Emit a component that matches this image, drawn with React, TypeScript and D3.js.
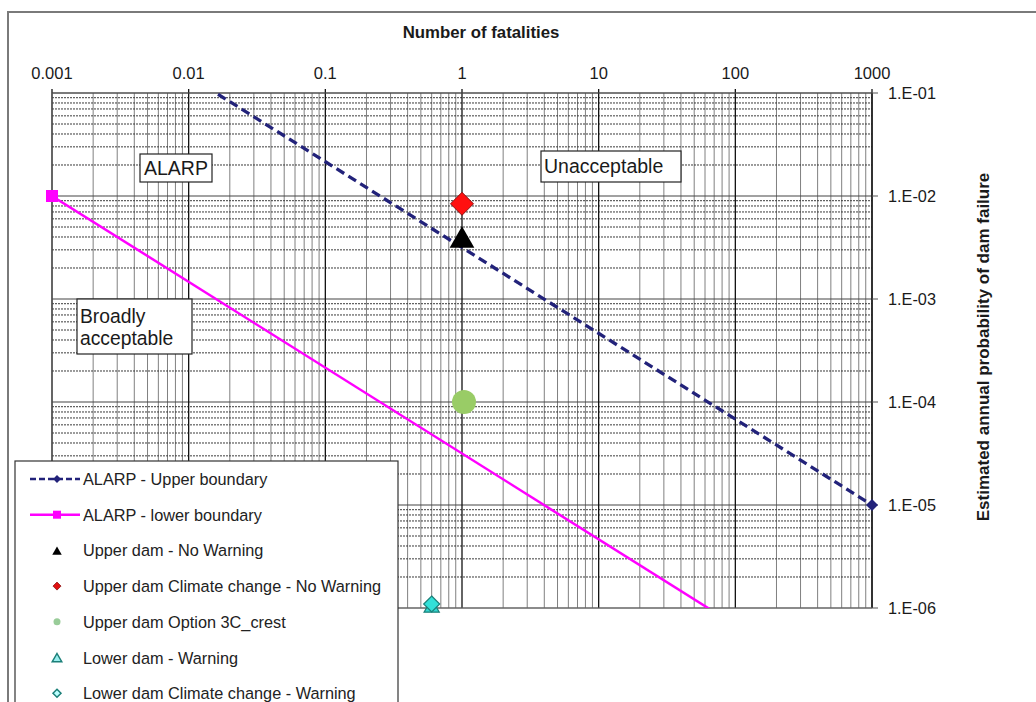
import React from "react";
import * as d3 from "d3";

const xTicks = [0.001, 0.01, 0.1, 1, 10, 100, 1000];
const xTickLabels = ["0.001", "0.01", "0.1", "1", "10", "100", "1000"];
const yTicks = [1e-1, 1e-2, 1e-3, 1e-4, 1e-5, 1e-6];
const yTickLabels = ["1.E-01", "1.E-02", "1.E-03", "1.E-04", "1.E-05", "1.E-06"];

const upperBoundaryX = [0.001, 1000];
const upperBoundaryY = [1, 1e-5];
const lowerBoundaryX = [0.001, 1000];
const lowerBoundaryY = [1e-2, 1e-7];

const upperNoWarning = { x: 1, y: 3.8e-3 };
const upperClimateNoWarning = { x: 1, y: 8.4e-3 };
const upperOption3C = { x: 1, y: 1e-4 };
const lowerWarning = { x: 0.6, y: 1e-6 };
const lowerClimateWarning = { x: 0.6, y: 1e-6 };

const legendLabels = [
  "ALARP - Upper boundary",
  "ALARP - lower boundary",
  "Upper dam - No Warning",
  "Upper dam Climate change - No Warning",
  "Upper dam Option 3C_crest",
  "Lower dam - Warning",
  "Lower dam Climate change - Warning",
];

const W = 1036;
const H = 702;
const L = 52, R = 872, T = 93, B = 608;
const FONT = "Arial, 'Liberation Sans', sans-serif";

export default function App() {
  const x = d3.scaleLog().domain([0.001, 1000]).range([L, R]);
  const y = d3.scaleLog().domain([1e-6, 1e-1]).range([B, T]);

  const minorX: number[] = [];
  for (let e = -3; e < 3; e++) for (let k = 2; k <= 9; k++) minorX.push(k * Math.pow(10, e));
  const minorY: number[] = [];
  for (let e = -6; e < -1; e++) for (let k = 2; k <= 9; k++) minorY.push(k * Math.pow(10, e));

  const line = d3
    .line<[number, number]>()
    .x((d) => x(d[0]))
    .y((d) => y(d[1]));
  const upperPts = upperBoundaryX.map((v, i) => [v, upperBoundaryY[i]] as [number, number]);
  const lowerPts = lowerBoundaryX.map((v, i) => [v, lowerBoundaryY[i]] as [number, number]);
  const inDomain = (p: [number, number]) =>
    p[0] >= 0.001 && p[0] <= 1000 && p[1] >= 1e-6 * 0.999 && p[1] <= 0.1 * 1.001;

  const diamond = (cx: number, cy: number, r: number) =>
    `M${cx},${cy - r}L${cx + r},${cy}L${cx},${cy + r}L${cx - r},${cy}Z`;
  const tri = (cx: number, cy: number, r: number) =>
    `M${cx},${cy - r}L${cx + r * 0.95},${cy + r * 0.65}L${cx - r * 0.95},${cy + r * 0.65}Z`;

  const legendY0 = 479;
  const legendDy = 35.7;
  const lx = 57;
  const navy = "#22227a";

  return (
    <svg
      width={W}
      height={H}
      style={{ position: "absolute", left: 0, top: 0, background: "#fff" }}
      fontFamily={FONT}
    >
      <defs>
        <clipPath id="plotclip">
          <rect x={L} y={T} width={R - L} height={B - T} />
        </clipPath>
      </defs>
      <rect x={0} y={0} width={W} height={H} fill="#fff" />
      {/* outer frame */}
      <path d={`M8,${H}L8,12L${W},12`} fill="none" stroke="#7a7a7a" strokeWidth={2} />

      {/* grid */}
      {minorX.map((v, i) => (
        <line key={"mx" + i} x1={x(v)} x2={x(v)} y1={T} y2={B} stroke="#808080" strokeWidth={1} />
      ))}
      {minorY.map((v, i) => (
        <line key={"my" + i} x1={L} x2={R} y1={y(v)} y2={y(v)} stroke="#3a3a3a" strokeWidth={1} strokeDasharray="2,1" />
      ))}
      {yTicks.map((v, i) => (
        <line key={"My" + i} x1={L} x2={R} y1={y(v)} y2={y(v)} stroke="#444" strokeWidth={1.2} />
      ))}
      {xTicks.map((v, i) => (
        <line key={"Mx" + i} x1={x(v)} x2={x(v)} y1={T - 4} y2={B} stroke="#111" strokeWidth={1.3} />
      ))}
      <line x1={L} x2={L} y1={T} y2={B} stroke="#666" strokeWidth={1.2} />
      <line x1={R} x2={R} y1={T} y2={B} stroke="#222" strokeWidth={1.5} />
      <line x1={L} x2={R} y1={B} y2={B} stroke="#777" strokeWidth={1.2} />
      <line x1={L} x2={R} y1={T} y2={T} stroke="#555" strokeWidth={1.2} />
      {yTicks.map((v, i) => (
        <line key={"yt" + i} x1={R} x2={R + 6} y1={y(v)} y2={y(v)} stroke="#555" strokeWidth={1} />
      ))}

      {/* tick labels */}
      {xTicks.map((v, i) => (
        <text key={"xl" + i} x={x(v)} y={79} textAnchor="middle" fontSize={16.5} fill="#1a1a1a">
          {xTickLabels[i]}
        </text>
      ))}
      {yTicks.map((v, i) => (
        <text key={"yl" + i} x={888} y={y(v) + 6} fontSize={16.3} fill="#1a1a1a">
          {yTickLabels[i]}
        </text>
      ))}
      <text x={481} y={38} textAnchor="middle" fontSize={16.8} fontWeight="bold" fill="#1a1a1a">
        Number of fatalities
      </text>
      <text
        transform={`translate(989,347) rotate(-90)`}
        textAnchor="middle"
        fontSize={17}
        fontWeight="bold"
        fill="#1a1a1a"
      >
        Estimated annual probability of dam failure
      </text>

      {/* boundary lines */}
      <g clipPath="url(#plotclip)">
        <path d={line(upperPts) || ""} fill="none" stroke={navy} strokeWidth={3.3} strokeDasharray="9,5" />
        <path d={line(lowerPts) || ""} fill="none" stroke="#ff00ff" strokeWidth={2.5} />
      </g>
      {upperPts.filter(inDomain).map((p, i) => (
        <path key={"ud" + i} d={diamond(x(p[0]), y(p[1]), 6)} fill={navy} />
      ))}
      {lowerPts.filter(inDomain).map((p, i) => (
        <rect key={"ls" + i} x={x(p[0]) - 6} y={y(p[1]) - 6} width={12} height={12} fill="#ff00ff" />
      ))}

      {/* region labels */}
      <rect x={140} y={154} width={72} height={28} fill="#fff" stroke="#222" strokeWidth={1.2} />
      <text x={176} y={175} textAnchor="middle" fontSize={19.5} fill="#1a1a1a">ALARP</text>
      <rect x={541} y={151} width={140} height={31} fill="#fff" stroke="#222" strokeWidth={1.2} />
      <text x={544} y={173} fontSize={19.5} fill="#1a1a1a">Unacceptable</text>
      <rect x={77} y={299} width={115} height={55} fill="#fff" stroke="#222" strokeWidth={1.2} />
      <text x={80} y={323} fontSize={19.3} fill="#1a1a1a">Broadly</text>
      <text x={80} y={345} fontSize={19.3} fill="#1a1a1a">acceptable</text>

      {/* data points */}
      <circle cx={x(upperOption3C.x) + 2} cy={y(upperOption3C.y)} r={12} fill="#99cc66" />
      <path d={diamond(x(upperClimateNoWarning.x), y(upperClimateNoWarning.y), 11.5)} fill="#ff1010" stroke="#8a1010" strokeWidth={1} />
      <path d={tri(x(upperNoWarning.x), y(upperNoWarning.y), 13)} fill="#000" />
      <path d={tri(x(lowerWarning.x), y(lowerWarning.y) - 1, 8)} fill="#33d6d0" stroke="#1b7f78" strokeWidth={1.2} />
      <path d={diamond(x(lowerClimateWarning.x), y(lowerClimateWarning.y) - 4, 8)} fill="#33e0d8" stroke="#1b7f78" strokeWidth={1.2} />

      {/* legend */}
      <rect x={15} y={461} width={383} height={260} fill="#fff" stroke="#333" strokeWidth={1.2} />
      {legendLabels.map((t, i) => (
        <text key={"lg" + i} x={83} y={legendY0 + i * legendDy + 6} fontSize={16.3} fill="#222">
          {t}
        </text>
      ))}
      <line x1={30} x2={80} y1={legendY0} y2={legendY0} stroke={navy} strokeWidth={2.5} strokeDasharray="6,3" />
      <path d={diamond(lx, legendY0, 4)} fill={navy} />
      <line x1={30} x2={80} y1={legendY0 + legendDy} y2={legendY0 + legendDy} stroke="#ff00ff" strokeWidth={2.5} />
      <rect x={lx - 4} y={legendY0 + legendDy - 4} width={8} height={8} fill="#ff00ff" />
      <path d={tri(lx, legendY0 + 2 * legendDy + 1, 5)} fill="#000" />
      <path d={diamond(lx, legendY0 + 3 * legendDy, 4)} fill="#e01010" stroke="#8a1010" strokeWidth={0.8} />
      <circle cx={lx} cy={legendY0 + 4 * legendDy} r={3.5} fill="#99cc99" />
      <path d={tri(lx, legendY0 + 5 * legendDy + 1, 5)} fill="#9ee" stroke="#1b7f78" strokeWidth={1.5} />
      <path d={diamond(lx, legendY0 + 6 * legendDy, 4)} fill="#bff" stroke="#1b7f78" strokeWidth={1.5} />
    </svg>
  );
}
